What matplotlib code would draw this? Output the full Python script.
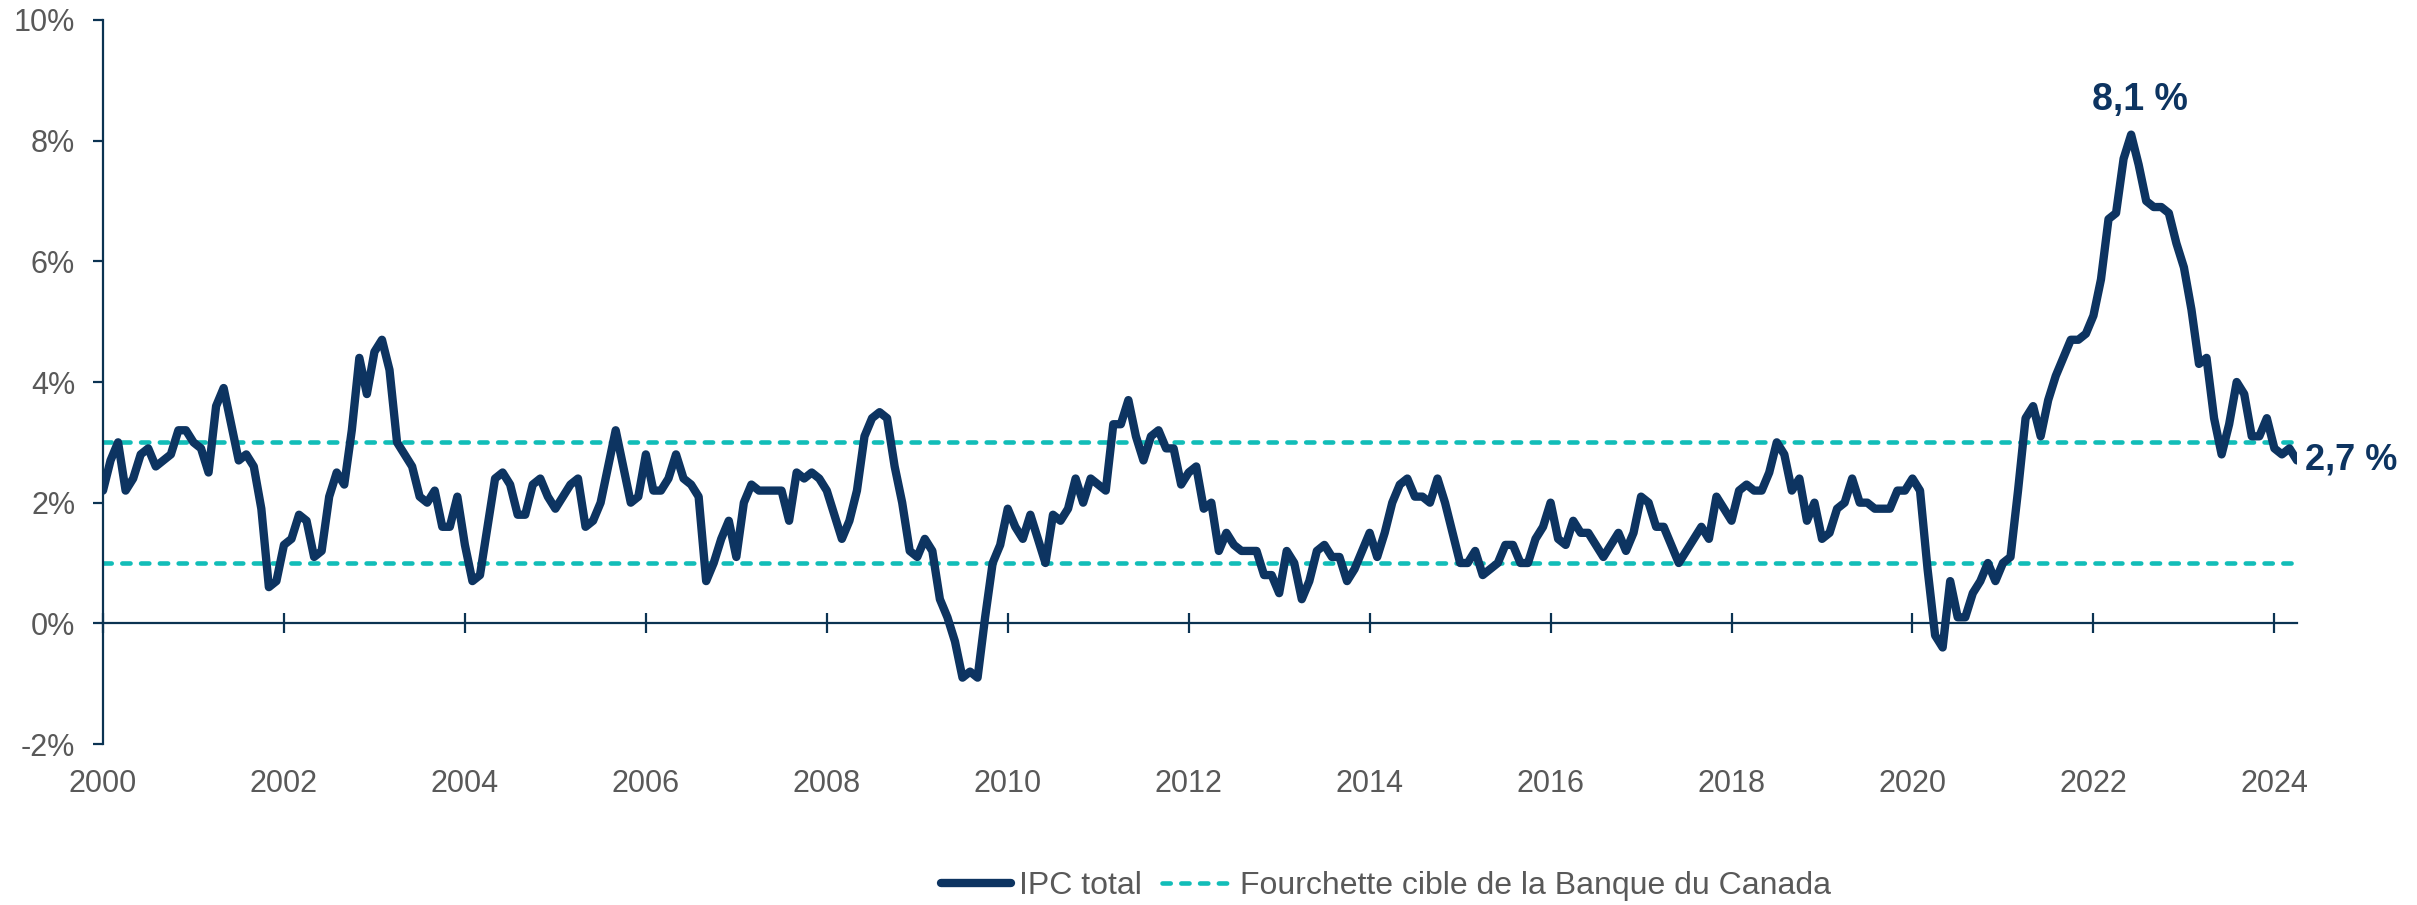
import numpy as np
import matplotlib.pyplot as plt

# IPC total, variation annuelle en %, mensuel de janv. 2000 a avr. 2024
ipc_2000 = [2.2, 2.7, 3.0, 2.2, 2.4, 2.8, 2.9, 2.6, 2.7, 2.8, 3.2, 3.2]
ipc_2001 = [3.0, 2.9, 2.5, 3.6, 3.9, 3.3, 2.7, 2.8, 2.6, 1.9, 0.6, 0.7]
ipc_2002 = [1.3, 1.4, 1.8, 1.7, 1.1, 1.2, 2.1, 2.5, 2.3, 3.2, 4.4, 3.8]
ipc_2003 = [4.5, 4.7, 4.2, 3.0, 2.8, 2.6, 2.1, 2.0, 2.2, 1.6, 1.6, 2.1]
ipc_2004 = [1.3, 0.7, 0.8, 1.6, 2.4, 2.5, 2.3, 1.8, 1.8, 2.3, 2.4, 2.1]
ipc_2005 = [1.9, 2.1, 2.3, 2.4, 1.6, 1.7, 2.0, 2.6, 3.2, 2.6, 2.0, 2.1]
ipc_2006 = [2.8, 2.2, 2.2, 2.4, 2.8, 2.4, 2.3, 2.1, 0.7, 1.0, 1.4, 1.7]
ipc_2007 = [1.1, 2.0, 2.3, 2.2, 2.2, 2.2, 2.2, 1.7, 2.5, 2.4, 2.5, 2.4]
ipc_2008 = [2.2, 1.8, 1.4, 1.7, 2.2, 3.1, 3.4, 3.5, 3.4, 2.6, 2.0, 1.2]
ipc_2009 = [1.1, 1.4, 1.2, 0.4, 0.1, -0.3, -0.9, -0.8, -0.9, 0.1, 1.0, 1.3]
ipc_2010 = [1.9, 1.6, 1.4, 1.8, 1.4, 1.0, 1.8, 1.7, 1.9, 2.4, 2.0, 2.4]
ipc_2011 = [2.3, 2.2, 3.3, 3.3, 3.7, 3.1, 2.7, 3.1, 3.2, 2.9, 2.9, 2.3]
ipc_2012 = [2.5, 2.6, 1.9, 2.0, 1.2, 1.5, 1.3, 1.2, 1.2, 1.2, 0.8, 0.8]
ipc_2013 = [0.5, 1.2, 1.0, 0.4, 0.7, 1.2, 1.3, 1.1, 1.1, 0.7, 0.9, 1.2]
ipc_2014 = [1.5, 1.1, 1.5, 2.0, 2.3, 2.4, 2.1, 2.1, 2.0, 2.4, 2.0, 1.5]
ipc_2015 = [1.0, 1.0, 1.2, 0.8, 0.9, 1.0, 1.3, 1.3, 1.0, 1.0, 1.4, 1.6]
ipc_2016 = [2.0, 1.4, 1.3, 1.7, 1.5, 1.5, 1.3, 1.1, 1.3, 1.5, 1.2, 1.5]
ipc_2017 = [2.1, 2.0, 1.6, 1.6, 1.3, 1.0, 1.2, 1.4, 1.6, 1.4, 2.1, 1.9]
ipc_2018 = [1.7, 2.2, 2.3, 2.2, 2.2, 2.5, 3.0, 2.8, 2.2, 2.4, 1.7, 2.0]
ipc_2019 = [1.4, 1.5, 1.9, 2.0, 2.4, 2.0, 2.0, 1.9, 1.9, 1.9, 2.2, 2.2]
ipc_2020 = [2.4, 2.2, 0.9, -0.2, -0.4, 0.7, 0.1, 0.1, 0.5, 0.7, 1.0, 0.7]
ipc_2021 = [1.0, 1.1, 2.2, 3.4, 3.6, 3.1, 3.7, 4.1, 4.4, 4.7, 4.7, 4.8]
ipc_2022 = [5.1, 5.7, 6.7, 6.8, 7.7, 8.1, 7.6, 7.0, 6.9, 6.9, 6.8, 6.3]
ipc_2023 = [5.9, 5.2, 4.3, 4.4, 3.4, 2.8, 3.3, 4.0, 3.8, 3.1, 3.1, 3.4]
ipc_2024 = [2.9, 2.8, 2.9, 2.7]

ipc = (ipc_2000 + ipc_2001 + ipc_2002 + ipc_2003 + ipc_2004 + ipc_2005 + ipc_2006
       + ipc_2007 + ipc_2008 + ipc_2009 + ipc_2010 + ipc_2011 + ipc_2012 + ipc_2013
       + ipc_2014 + ipc_2015 + ipc_2016 + ipc_2017 + ipc_2018 + ipc_2019 + ipc_2020
       + ipc_2021 + ipc_2022 + ipc_2023 + ipc_2024)
mois = 2000 + np.arange(len(ipc)) / 12

cible_bas = 1.0
cible_haut = 3.0
annees = list(range(2000, 2025, 2))
y_ticks = [-2, 0, 2, 4, 6, 8, 10]
y_labels = ['-2%', '0%', '2%', '4%', '6%', '8%', '10%']

marine = '#0D3461'
sarcelle = '#12BDB8'
axe = '#0B3352'
gris = '#595959'

plt.rcParams['font.family'] = ['Liberation Sans', 'DejaVu Sans']

fig = plt.figure(figsize=(24.17, 9.05), dpi=100)
ax = fig.add_axes([103 / 2417, 1 - 744 / 905, (2297 - 103) / 2417, (744 - 20) / 905])

ax.plot(mois, ipc, color=marine, lw=6, solid_joinstyle='round', solid_capstyle='round',
        label='IPC total', zorder=3)
tirets = (0, (1.8, 2.3))
ax.plot([2000, mois[-1]], [cible_haut, cible_haut], color=sarcelle, lw=3.3,
        linestyle=tirets, dash_capstyle='round',
        label='Fourchette cible de la Banque du Canada', zorder=2)
ax.plot([2000, mois[-1]], [cible_bas, cible_bas], color=sarcelle, lw=3.3,
        linestyle=tirets, dash_capstyle='round', zorder=2)

ax.set_xlim(2000, mois[-1])
ax.set_ylim(-2, 10)

for s in ['top', 'right']:
    ax.spines[s].set_visible(False)
ax.spines['left'].set_color(axe)
ax.spines['left'].set_linewidth(1.6)
ax.spines['bottom'].set_position(('data', 0))
ax.spines['bottom'].set_color(axe)
ax.spines['bottom'].set_linewidth(1.6)

ax.set_yticks(y_ticks)
ax.set_yticklabels(y_labels)
ax.set_xticks(annees)
ax.set_xticklabels([str(a) for a in annees])
ax.tick_params(axis='y', direction='out', length=7, width=1.6, color=axe,
               labelsize=22, labelcolor=gris, pad=13)
ax.tick_params(axis='x', direction='inout', length=14.4, width=1.6, color=axe,
               labelsize=22, labelcolor=gris, pad=98)

i_max = int(np.argmax(ipc))
ax.annotate('8,1 %', (mois[i_max], ipc[i_max]), xytext=(6.5, 25), textcoords='offset points',
            ha='center', va='center', fontsize=27, fontweight='bold', color=marine)
ax.annotate('2,7 %', (mois[-1], ipc[-1]), xytext=(6, 0), textcoords='offset points',
            ha='left', va='center', fontsize=26, fontweight='bold', color=marine,
            annotation_clip=False)

leg = fig.legend(loc='center', bbox_to_anchor=(1386 / 2417, 1 - 886 / 905), ncol=2,
                 frameon=False, handlelength=2.2, handletextpad=0.25, columnspacing=0.6,
                 prop={'size': 23})
for t in leg.get_texts():
    t.set_color(gris)

fig.savefig('out.png', dpi=100)
